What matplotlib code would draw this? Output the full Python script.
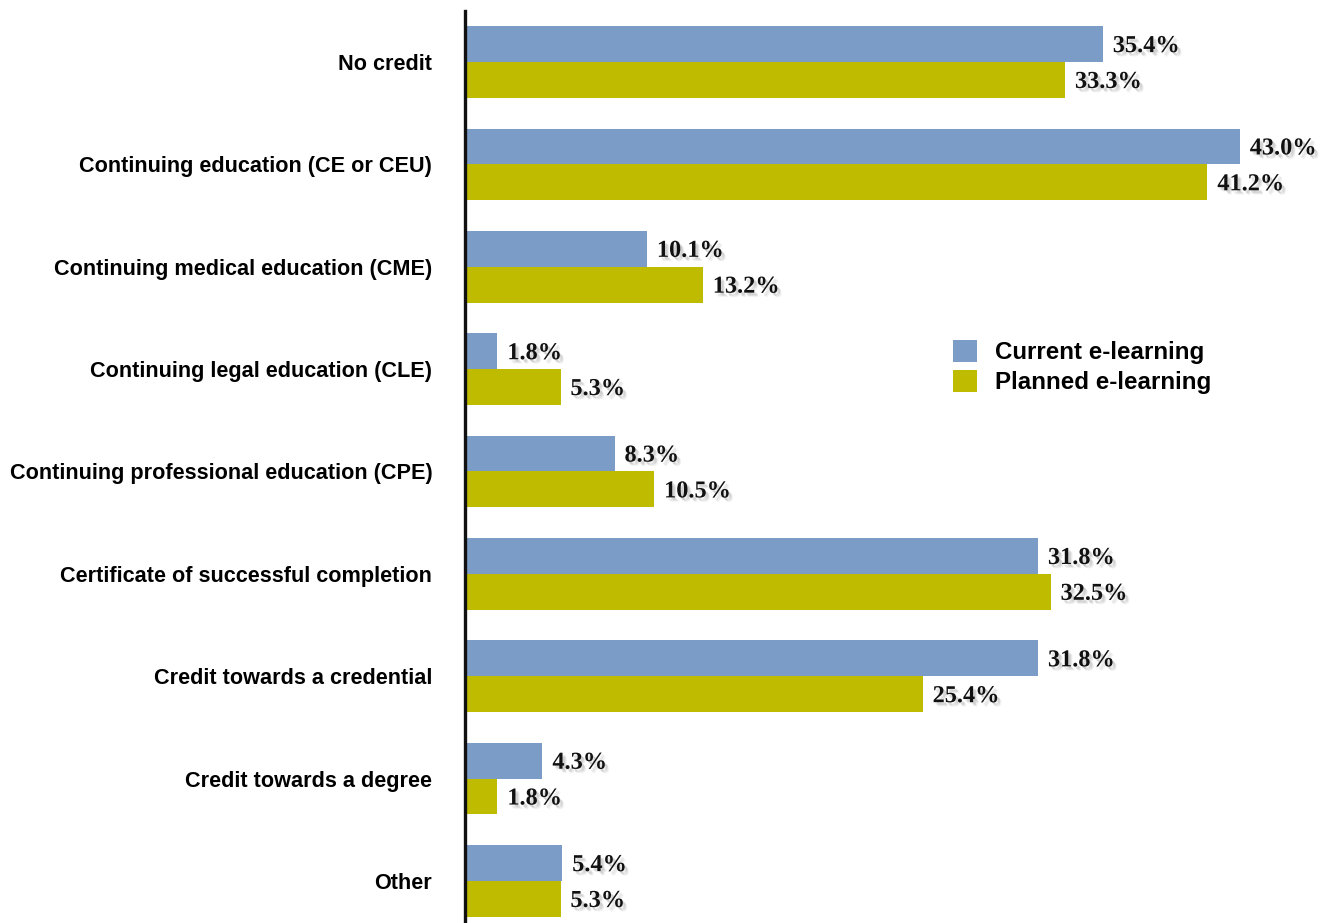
import matplotlib
matplotlib.use("Agg")
import matplotlib.pyplot as plt
import matplotlib.patheffects as pe
import numpy as np

categories = [
    "No credit",
    "Continuing education (CE or CEU)",
    "Continuing medical education (CME)",
    "Continuing legal education (CLE)",
    "Continuing professional education (CPE)",
    "Certificate of successful completion",
    "Credit towards a credential",
    "Credit towards a degree",
    "Other",
]
current = [35.4, 43.0, 10.1, 1.8, 8.3, 31.8, 31.8, 4.3, 5.4]
planned = [33.3, 41.2, 13.2, 5.3, 10.5, 32.5, 25.4, 1.8, 5.3]
series_names = ["Current e-learning", "Planned e-learning"]

blue = "#7A9CC6"
olive = "#BEBB00"

W, H = 1329, 923
fig = plt.figure(figsize=(W / 100, H / 100), dpi=100)
left, right = 465 / W, 1.0
top_px, bot_px = 10.8, 932.2
ax = fig.add_axes([left, 1 - bot_px / H, right - left, (bot_px - top_px) / H])

n = len(categories)
y = np.arange(n)
bh = 0.35
ax.barh(y - bh / 2, current, height=bh, color=blue, label=series_names[0])
ax.barh(y + bh / 2, planned, height=bh, color=olive, label=series_names[1])

ax.set_xlim(0, (W - 465) / 18.02)
ax.set_ylim(n - 0.5, -0.5)

for s in ["top", "right", "bottom"]:
    ax.spines[s].set_visible(False)
ax.spines["left"].set_linewidth(2.4)
ax.spines["left"].set_color("#111111")
ax.set_xticks([])
ax.set_yticks(y)
ax.set_yticklabels(categories, fontfamily="Liberation Sans", fontweight="bold",
                   fontsize=15.6)
ax.tick_params(axis="y", length=0, pad=23.5)

# soft drop shadow under the value labels
shadow = [pe.SimplePatchShadow(offset=(2.2, -2.2), shadow_rgbFace="#888888", alpha=0.2),
          pe.SimplePatchShadow(offset=(3.0, -3.0), shadow_rgbFace="#888888", alpha=0.13),
          pe.SimplePatchShadow(offset=(1.5, -1.5), shadow_rgbFace="#888888", alpha=0.13),
          pe.Normal()]

def label(vals, offset):
    for i, v in enumerate(vals):
        ax.text(v + 0.55, i + offset, f"{v:.1f}%", va="center_baseline", ha="left",
                fontfamily="Liberation Serif", fontweight="bold", fontsize=17.5,
                color="#111111", path_effects=shadow)

label(current, -bh / 2)
label(planned, bh / 2)

leg = ax.legend(loc="upper left",
                bbox_to_anchor=((953 - 465) / (W - 465), 1 - (340 - top_px) / (bot_px - top_px)),
                frameon=False, prop={"family": "Liberation Sans", "weight": "bold", "size": 17.4},
                handlelength=1.0, handleheight=1.0, handletextpad=0.75, labelspacing=0.25,
                borderaxespad=0, borderpad=0)

fig.savefig("out.png", dpi=100)
